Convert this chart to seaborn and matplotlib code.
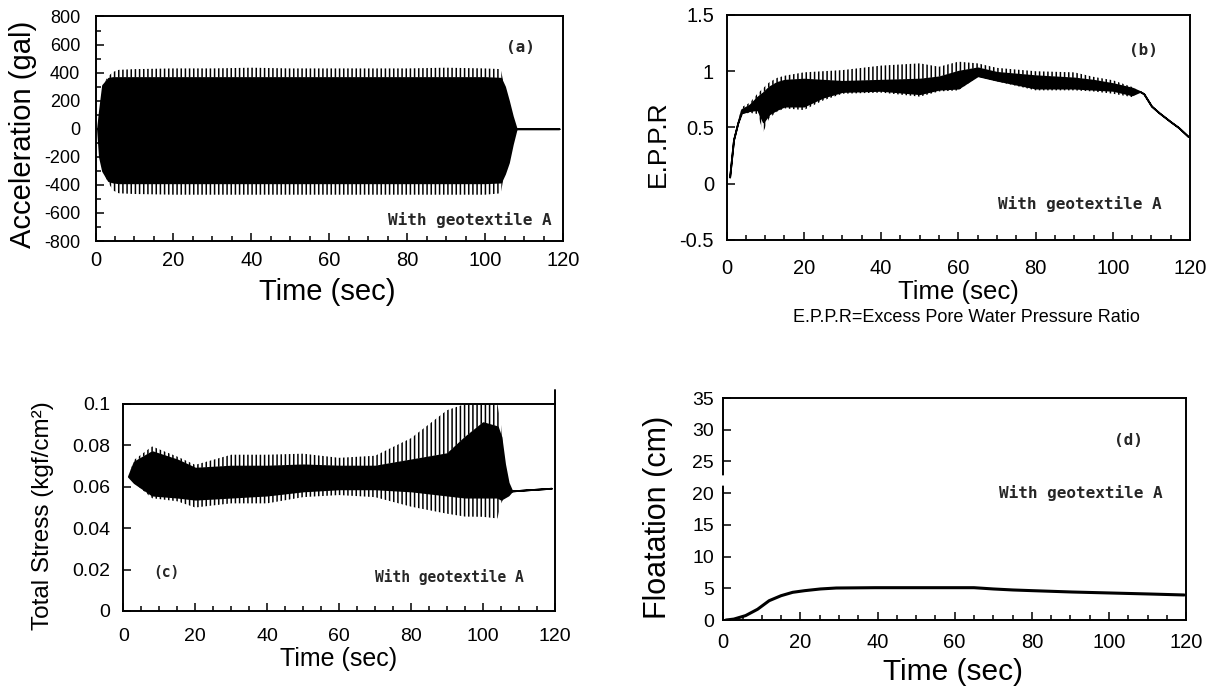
import matplotlib
matplotlib.use("Agg")
import matplotlib.pyplot as plt
import seaborn as sns
import pandas as pd
from matplotlib.ticker import MultipleLocator, FuncFormatter

# ---------------- datos ----------------
# (a) aceleracion: envolventes de la banda negra y de los picos
acc_t       = [0.5, 1.0, 1.8, 3.3, 4.5, 6, 10, 20, 30, 40, 50, 60, 70, 80, 90, 100, 104, 105, 106, 107, 108, 119]
acc_core_hi = [0, 130, 310, 360, 365, 365, 365, 365, 365, 365, 365, 365, 365, 365, 365, 365, 360, 300, 200, 90, 0, 0]
acc_peak_hi = [0, 130, 310, 375, 405, 420, 425, 430, 430, 435, 430, 430, 430, 430, 435, 430, 425, 300, 200, 90, 0, 0]
acc_core_lo = [0, -200, -300, -370, -380, -385, -385, -385, -385, -385, -385, -385, -385, -385, -385, -385, -380, -320, -240, -110, 0, 0]
acc_peak_lo = [0, -200, -300, -385, -440, -460, -465, -470, -470, -470, -470, -470, -470, -470, -470, -470, -460, -320, -240, -110, 0, 0]

# (b) E.P.P.R
eppr_t       = [0.8, 1.8, 2.9, 3.9, 6, 8, 9.5, 11, 13, 15, 20, 25, 30, 40, 50, 55, 60, 65, 70, 80,
                90, 95, 100, 105, 107, 108, 110, 112, 115, 117, 119.5]
eppr_peak_hi = [0.06, 0.39, 0.54, 0.68, 0.72, 0.80, 0.85, 0.90, 0.94, 0.96, 0.99, 1.00, 1.01, 1.05, 1.07, 1.04, 1.085, 1.07, 1.03, 1.00,
                0.99, 0.95, 0.92, 0.86, 0.82, 0.80, 0.69, 0.63, 0.55, 0.50, 0.42]
eppr_core_hi = [0.06, 0.39, 0.54, 0.66, 0.70, 0.77, 0.81, 0.86, 0.90, 0.92, 0.93, 0.92, 0.91, 0.92, 0.93, 0.95, 1.00, 1.03, 0.99, 0.96,
                0.94, 0.92, 0.89, 0.85, 0.82, 0.80, 0.69, 0.63, 0.55, 0.50, 0.42]
eppr_core_lo = [0.06, 0.39, 0.54, 0.63, 0.65, 0.66, 0.55, 0.62, 0.66, 0.69, 0.69, 0.77, 0.82, 0.83, 0.80, 0.84, 0.85, 0.96, 0.92, 0.85,
                0.85, 0.84, 0.83, 0.79, 0.82, 0.80, 0.69, 0.63, 0.55, 0.50, 0.42]
eppr_peak_lo = [0.06, 0.39, 0.54, 0.62, 0.63, 0.62, 0.46, 0.58, 0.64, 0.67, 0.655, 0.74, 0.80, 0.81, 0.774, 0.82, 0.83, 0.95, 0.91, 0.83,
                0.83, 0.82, 0.80, 0.77, 0.82, 0.80, 0.69, 0.63, 0.55, 0.50, 0.42]

# (c) tension total
st_t       = [1.4, 3, 8, 15, 20, 30, 40, 50, 60, 70, 80, 90, 95, 100, 104, 105, 106, 107, 108, 112, 119]
st_peak_hi = [0.065, 0.073, 0.0795, 0.0746, 0.0706, 0.0755, 0.0755, 0.076, 0.074, 0.075, 0.0835, 0.097, 0.1, 0.1, 0.1, 0.090, 0.071, 0.062, 0.058, 0.0585, 0.0593]
st_core_hi = [0.065, 0.072, 0.077, 0.073, 0.069, 0.070, 0.070, 0.0706, 0.070, 0.070, 0.073, 0.076, 0.084, 0.091, 0.089, 0.084, 0.071, 0.062, 0.058, 0.0585, 0.0593]
st_core_lo = [0.065, 0.062, 0.056, 0.055, 0.054, 0.055, 0.056, 0.058, 0.059, 0.059, 0.058, 0.056, 0.055, 0.055, 0.055, 0.054, 0.055, 0.056, 0.058, 0.0585, 0.0593]
st_peak_lo = [0.065, 0.062, 0.0545, 0.053, 0.050, 0.052, 0.052, 0.055, 0.056, 0.055, 0.0504, 0.047, 0.0456, 0.0455, 0.0447, 0.052, 0.055, 0.056, 0.058, 0.0585, 0.0593]

# (d) flotacion
fl_t = [0.7, 2.75, 5.8, 8.9, 11.9, 15, 18, 21.1, 25.2, 29.3, 39.4, 50, 59.8, 65, 70, 75.1, 80.2, 90.4, 100.6, 110.8, 119.5]
fl_v = [0.0, 0.15, 0.7, 1.7, 3.05, 3.84, 4.37, 4.63, 4.9, 5.05, 5.1, 5.1, 5.1, 5.1, 4.9, 4.74, 4.63, 4.42, 4.26, 4.1, 3.95]

# ticks
x_ticks = [0, 20, 40, 60, 80, 100, 120]
acc_yticks = [-800, -600, -400, -200, 0, 200, 400, 600, 800]
eppr_yticks = [-0.5, 0, 0.5, 1, 1.5]
st_yticks = [0, 0.02, 0.04, 0.06, 0.08, 0.1]
fl_yticks = [0, 5, 10, 15, 20, 25, 30, 35]

NOTE = "With geotextile A"

# ---------------- estilo ----------------
sns.set_theme(style="ticks")
plt.rcParams['font.family'] = ['Liberation Sans', 'DejaVu Sans']
plt.rcParams['axes.unicode_minus'] = False
plt.rcParams['hatch.linewidth'] = 1.1
plt.rcParams['axes.linewidth'] = 1.4
plt.rcParams['axes.edgecolor'] = 'black'

MONO = dict(family=['DejaVu Sans Mono'], fontweight='bold', fontsize=11.5)

fig = plt.figure(figsize=(12.17, 6.9), dpi=100)
ax_a = fig.add_axes([0.0785, 0.6507, 0.3841, 0.3254])
ax_b = fig.add_axes([0.5970, 0.6522, 0.3809, 0.3261])
ax_c = fig.add_axes([0.1013, 0.1145, 0.3547, 0.3000])
ax_d = fig.add_axes([0.5943, 0.1014, 0.3803, 0.3217])


def banda(ax, t, lo, hi, peak_hi=None, peak_lo=None):
    ax.fill_between(t, lo, hi, facecolor='black', edgecolor='black', linewidth=1.3)
    if peak_hi is not None:
        ax.fill_between(t, hi, peak_hi, facecolor='none', edgecolor='black',
                        hatch='||||', linewidth=0)
    if peak_lo is not None:
        ax.fill_between(t, peak_lo, lo, facecolor='none', edgecolor='black',
                        hatch='||||', linewidth=0)


def ejes(ax, yticks, ylim, xsize, ysize, xpad, ypad, yminor=None):
    ax.set_xlim(0, 120)
    ax.set_ylim(*ylim)
    ax.set_xticks(x_ticks)
    ax.set_yticks(yticks)
    ax.xaxis.set_minor_locator(MultipleLocator(5))
    if yminor:
        ax.yaxis.set_minor_locator(MultipleLocator(yminor))
    ax.yaxis.set_major_formatter(FuncFormatter(lambda v, p: f"{v:g}"))
    ax.tick_params(which='both', direction='in', color='black', width=1.1,
                   top=False, right=False)
    ax.tick_params(which='major', length=6)
    ax.tick_params(which='minor', length=3.5)
    ax.tick_params(axis='x', pad=xpad, labelsize=xsize, labelcolor='black')
    ax.tick_params(axis='y', pad=ypad, labelsize=ysize, labelcolor='black')
    for s in ax.spines.values():
        s.set_visible(True)
        s.set_color('black')
    ax.set_facecolor('white')
    ax.grid(False)


# (a)
banda(ax_a, acc_t, acc_core_lo, acc_core_hi, acc_peak_hi, acc_peak_lo)
ejes(ax_a, acc_yticks, (-800, 800), 14.5, 13, 7.5, 11, yminor=100)
ax_a.set_xlabel("Time (sec)", fontsize=21, color='black')
ax_a.set_ylabel("Acceleration (gal)", fontsize=21, color='black')
ax_a.xaxis.set_label_coords(0.495, -0.165)
ax_a.yaxis.set_label_coords(-0.126, 0.477)
ax_a.text(0.909, 0.86, "(a)", transform=ax_a.transAxes, ha='center', va='center', **MONO)
ax_a.text(0.801, 0.094, NOTE, transform=ax_a.transAxes, ha='center', va='center', **MONO)

# (b)
banda(ax_b, eppr_t, eppr_core_lo, eppr_core_hi, eppr_peak_hi, eppr_peak_lo)
ejes(ax_b, eppr_yticks, (-0.5, 1.5), 14.5, 14.5, 14, 9)
ax_b.set_xlabel("Time (sec)", fontsize=18.5, color='black')
ax_b.set_ylabel("E.P.P.R", fontsize=19, color='black')
ax_b.xaxis.set_label_coords(0.4995, -0.178)
ax_b.yaxis.set_label_coords(-0.122, 0.427)
ax_b.text(0.899, 0.844, "(b)", transform=ax_b.transAxes, ha='center', va='center', **MONO)
ax_b.text(0.763, 0.16, NOTE, transform=ax_b.transAxes, ha='center', va='center', **MONO)
fig.text(966 / 1217, 1 - 318 / 690, "E.P.P.R=Excess Pore Water Pressure Ratio",
         ha='center', va='center', fontsize=13, color='black')

# (c)
banda(ax_c, st_t, st_core_lo, st_core_hi, st_peak_hi, st_peak_lo)
ejes(ax_c, st_yticks, (0, 0.1), 14, 14, 12, 9.5)
ax_c.set_xlabel("Time (sec)", fontsize=18, color='black')
ax_c.set_ylabel("Total Stress (kgf/cm²)", fontsize=17.5, color='black')
ax_c.xaxis.set_label_coords(0.499, -0.174)
ax_c.yaxis.set_label_coords(-0.161, 0.46)
ax_c.text(0.1, 0.188, "(c)", transform=ax_c.transAxes, ha='center', va='center',
          **dict(MONO, fontsize=10.5))
ax_c.text(0.756, 0.164, NOTE, transform=ax_c.transAxes, ha='center', va='center',
          **dict(MONO, fontsize=10.5))
# borde derecho que sobresale por arriba
ax_c.plot([120, 120], [0.1, 0.107], color='black', linewidth=1.4, clip_on=False)

# (d)
df_fl = pd.DataFrame({"t": fl_t, "v": fl_v})
sns.lineplot(data=df_fl, x="t", y="v", ax=ax_d, color='black', linewidth=2.2)
ejes(ax_d, fl_yticks, (0, 35), 14.5, 14, 9.5, 6.5)
ax_d.set_xlabel("Time (sec)", fontsize=21.5, color='black')
ax_d.set_ylabel("Floatation (cm)", fontsize=22, color='black')
ax_d.xaxis.set_label_coords(0.4966, -0.171)
ax_d.yaxis.set_label_coords(-0.109, 0.464)
ax_d.text(0.875, 0.81, "(d)", transform=ax_d.transAxes, ha='center', va='center', **MONO)
ax_d.text(0.772, 0.572, NOTE, transform=ax_d.transAxes, ha='center', va='center', **MONO)
# corte del eje y
ax_d.plot([0, 0], [21.6, 22.4], color='white', linewidth=4, clip_on=False, zorder=10)

fig.savefig("out.png", dpi=100, facecolor='white')
